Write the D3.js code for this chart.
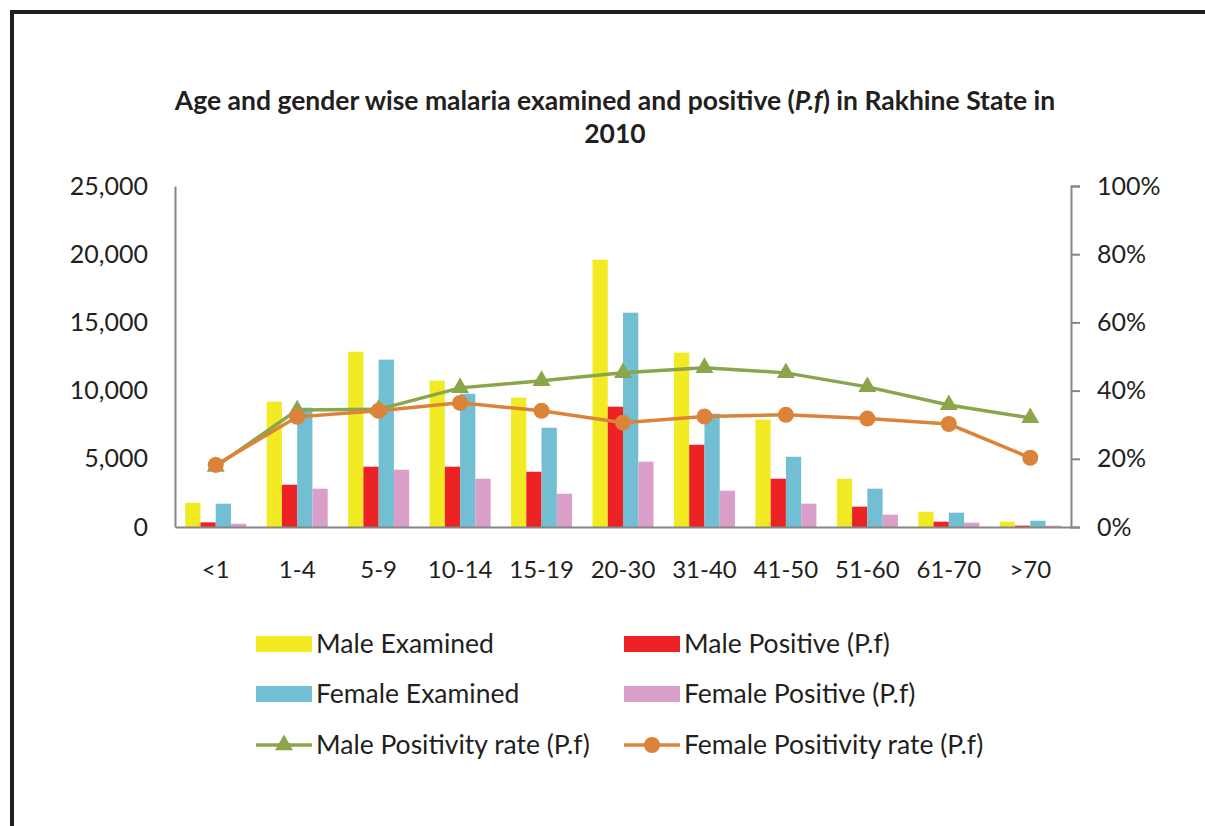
<!DOCTYPE html>
<html>
<head>
<meta charset="utf-8">
<script src="https://cdn.jsdelivr.net/npm/d3@7"></script>
<style>
  body { margin: 0; background: #fff; }
  text { font-family: Lato, "Open Sans", sans-serif; fill: #231f20; }
</style>
</head>
<body>
<div id="chart"></div>
<script>
const ageGroups = ["<1", "1-4", "5-9", "10-14", "15-19", "20-30", "31-40", "41-50", "51-60", "61-70", ">70"];
const maleExamined = [1780, 9190, 12850, 10730, 9480, 19600, 12780, 7870, 3540, 1120, 390];
const malePositive = [340, 3100, 4420, 4420, 4050, 8820, 6030, 3540, 1490, 390, 100];
const femaleExamined = [1710, 8750, 12270, 9770, 7280, 15710, 8310, 5150, 2810, 1050, 460];
const femalePositive = [240, 2810, 4200, 3540, 2440, 4790, 2660, 1710, 900, 320, 100];
const maleRate = [0.177, 0.343, 0.345, 0.408, 0.429, 0.452, 0.467, 0.452, 0.411, 0.358, 0.320];
const femaleRate = [0.182, 0.323, 0.341, 0.364, 0.341, 0.306, 0.324, 0.329, 0.318, 0.302, 0.203];
const leftTicks = [0, 5000, 10000, 15000, 20000, 25000];
const rightTicks = [0, 0.2, 0.4, 0.6, 0.8, 1.0];

const barSeries = [
  { name: "Male Examined", values: maleExamined, color: "#f2ea23" },
  { name: "Male Positive (P.f)", values: malePositive, color: "#ed2224" },
  { name: "Female Examined", values: femaleExamined, color: "#72bed3" },
  { name: "Female Positive (P.f)", values: femalePositive, color: "#da9fc8" }
];
const lineSeries = [
  { name: "Male Positivity rate (P.f)", values: maleRate, color: "#8aa54a", marker: "triangle" },
  { name: "Female Positivity rate (P.f)", values: femaleRate, color: "#dc833a", marker: "circle" }
];

const W = 1205, H = 826;
const plot = { left: 175, right: 1071, top: 186, bottom: 527 };

const svg = d3.select("#chart").append("svg")
  .attr("width", W).attr("height", H);

// frame
svg.append("path")
  .attr("d", `M12,${H} L12,12 L${W},12`)
  .attr("fill", "none").attr("stroke", "#231f20").attr("stroke-width", 4);

// title
const title = svg.append("text")
  .attr("text-anchor", "middle")
  .style("font-size", "26.5px").style("font-weight", "bold");
const l1 = title.append("tspan").attr("x", 615).attr("y", 110);
l1.append("tspan").text("Age and gender wise malaria examined and positive (");
l1.append("tspan").style("font-style", "italic").text("P.f");
l1.append("tspan").text(") in Rakhine State in");
title.append("tspan").attr("x", 615).attr("y", 143).text("2010");

const x = d3.scaleBand().domain(ageGroups).range([plot.left, plot.right]);
const x1 = d3.scaleBand().domain(d3.range(barSeries.length))
  .range([0, x.bandwidth()]).paddingInner(0).paddingOuter(0.67);
const y = d3.scaleLinear().domain([0, 25000]).range([plot.bottom, plot.top]);
const y2 = d3.scaleLinear().domain([0, 1]).range([plot.bottom, plot.top]);

// left axis
const gl = svg.append("g").attr("transform", `translate(${plot.left},0)`)
  .call(d3.axisLeft(y).tickValues(leftTicks).tickSize(0).tickPadding(27).tickFormat(d3.format(",")));
gl.select(".domain").attr("stroke", "#868686").attr("stroke-width", 2);
gl.selectAll("text").style("font-size", "25px").attr("fill", "#231f20");

// right axis
const gr = svg.append("g").attr("transform", `translate(${plot.right},0)`)
  .call(d3.axisRight(y2).tickValues(rightTicks).tickSize(9).tickSizeOuter(9).tickPadding(17).tickFormat(d3.format(".0%")));
gr.select(".domain").attr("stroke", "#868686").attr("stroke-width", 2);
gr.selectAll("line").attr("stroke", "#868686").attr("stroke-width", 2);
gr.selectAll("text").style("font-size", "25px").attr("fill", "#231f20");

// bars
barSeries.forEach((s, i) => {
  svg.append("g").selectAll("rect")
    .data(s.values)
    .join("rect")
    .attr("x", (d, j) => x(ageGroups[j]) + x1(i))
    .attr("width", x1.bandwidth())
    .attr("y", d => y(d))
    .attr("height", d => y(0) - y(d))
    .attr("fill", s.color);
});

// bottom axis
const gb = svg.append("g").attr("transform", `translate(0,${plot.bottom})`)
  .call(d3.axisBottom(x).tickSize(0).tickPadding(34));
gb.select(".domain").attr("stroke", "#868686").attr("stroke-width", 2);
gb.selectAll("text").style("font-size", "24px").attr("fill", "#231f20");

// lines
const cx = d => x(d) + x.bandwidth() / 2;
const tri = d3.symbol().type(d3.symbolTriangle).size(140);
lineSeries.forEach(s => {
  const line = d3.line().x((d, j) => cx(ageGroups[j])).y(d => y2(d));
  svg.append("path").datum(s.values)
    .attr("d", line).attr("fill", "none")
    .attr("stroke", s.color).attr("stroke-width", 3.5);
  const g = svg.append("g");
  if (s.marker === "circle") {
    g.selectAll("circle").data(s.values).join("circle")
      .attr("cx", (d, j) => cx(ageGroups[j])).attr("cy", d => y2(d))
      .attr("r", 8).attr("fill", s.color);
  } else {
    g.selectAll("path").data(s.values).join("path")
      .attr("d", tri)
      .attr("transform", (d, j) => `translate(${cx(ageGroups[j])},${y2(d)})`)
      .attr("fill", s.color);
  }
});

// legend
const legendItems = [
  { s: barSeries[0], col: 0, row: 0, type: "bar" },
  { s: barSeries[1], col: 1, row: 0, type: "bar" },
  { s: barSeries[2], col: 0, row: 1, type: "bar" },
  { s: barSeries[3], col: 1, row: 1, type: "bar" },
  { s: lineSeries[0], col: 0, row: 2, type: "line" },
  { s: lineSeries[1], col: 1, row: 2, type: "line" }
];
const legX = [256, 624], legY = [644, 694, 745];
legendItems.forEach(it => {
  const g = svg.append("g")
    .attr("transform", `translate(${legX[it.col]},${legY[it.row]})`);
  if (it.type === "bar") {
    g.append("rect").attr("x", 0).attr("y", -8).attr("width", 56).attr("height", 16)
      .attr("fill", it.s.color);
  } else {
    g.append("line").attr("x1", 0).attr("x2", 56).attr("y1", 0).attr("y2", 0)
      .attr("stroke", it.s.color).attr("stroke-width", 3.5);
    if (it.s.marker === "circle") {
      g.append("circle").attr("cx", 28).attr("cy", 0).attr("r", 8).attr("fill", it.s.color);
    } else {
      g.append("path").attr("d", tri).attr("transform", "translate(28,0)").attr("fill", it.s.color);
    }
  }
  g.append("text").attr("x", 60).attr("y", 0).attr("dy", "0.35em")
    .style("font-size", "26.5px").text(it.s.name);
});
</script>
</body>
</html>
